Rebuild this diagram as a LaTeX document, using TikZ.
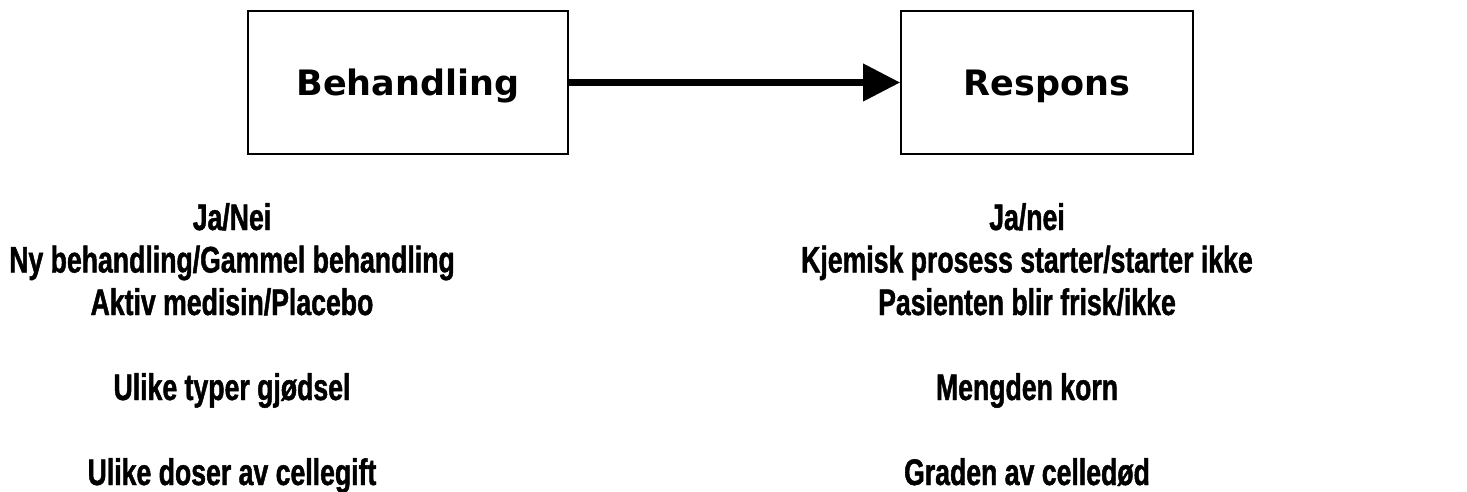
\documentclass[tikz,border=0pt]{standalone}
\usepackage{fontspec}
\setmainfont{Liberation Sans}
\newfontfamily\boxfont{DejaVu Sans}
\newfontfamily\lblfont[FakeStretch=0.72,FakeBold=1.2]{Liberation Sans Bold}
\usetikzlibrary{arrows.meta}
\begin{document}
\begin{tikzpicture}[x=1pt,y=-1pt,
  box/.style={draw=black,line width=1.6pt,minimum width=#1,minimum height=143pt,inner sep=0pt,text height=26pt,text depth=0pt,font=\boxfont\bfseries\fontsize{35}{40}\selectfont},
  lbl/.style={anchor=base,inner sep=0pt,font=\lblfont\fontsize{37}{42}\selectfont}]
\useasboundingbox (0,0) rectangle (1467,492);
\node[box=320pt] (beh) at (408,82.5) {Behandling};
\node[box=292pt] (resp) at (1047,82.5) {Respons};
\draw[line width=7pt,-{Triangle[length=37pt,width=36pt]}] (beh.east) -- (resp.west);
% left
\node[lbl] (l1) at (232,230) {Ja/Nei};
\node[lbl] (l2) at (232,272.5) {Ny behandling/Gammel behandling};
\node[lbl] (l3) at (232,315) {Aktiv medisin/Placebo};
\node[lbl] (l4) at (232,400) {Ulike typer gjødsel};
\node[lbl] (l5) at (232,485) {Ulike doser av cellegift};
% right
\node[lbl] (r1) at (1027,230) {Ja/nei};
\node[lbl] (r2) at (1027,272.5) {Kjemisk prosess starter/starter ikke};
\node[lbl] (r3) at (1027,315) {Pasienten blir frisk/ikke};
\node[lbl] (r4) at (1027,400) {Mengden korn};
\node[lbl] (r5) at (1027,485) {Graden av celledød};
\end{tikzpicture}
\end{document}
